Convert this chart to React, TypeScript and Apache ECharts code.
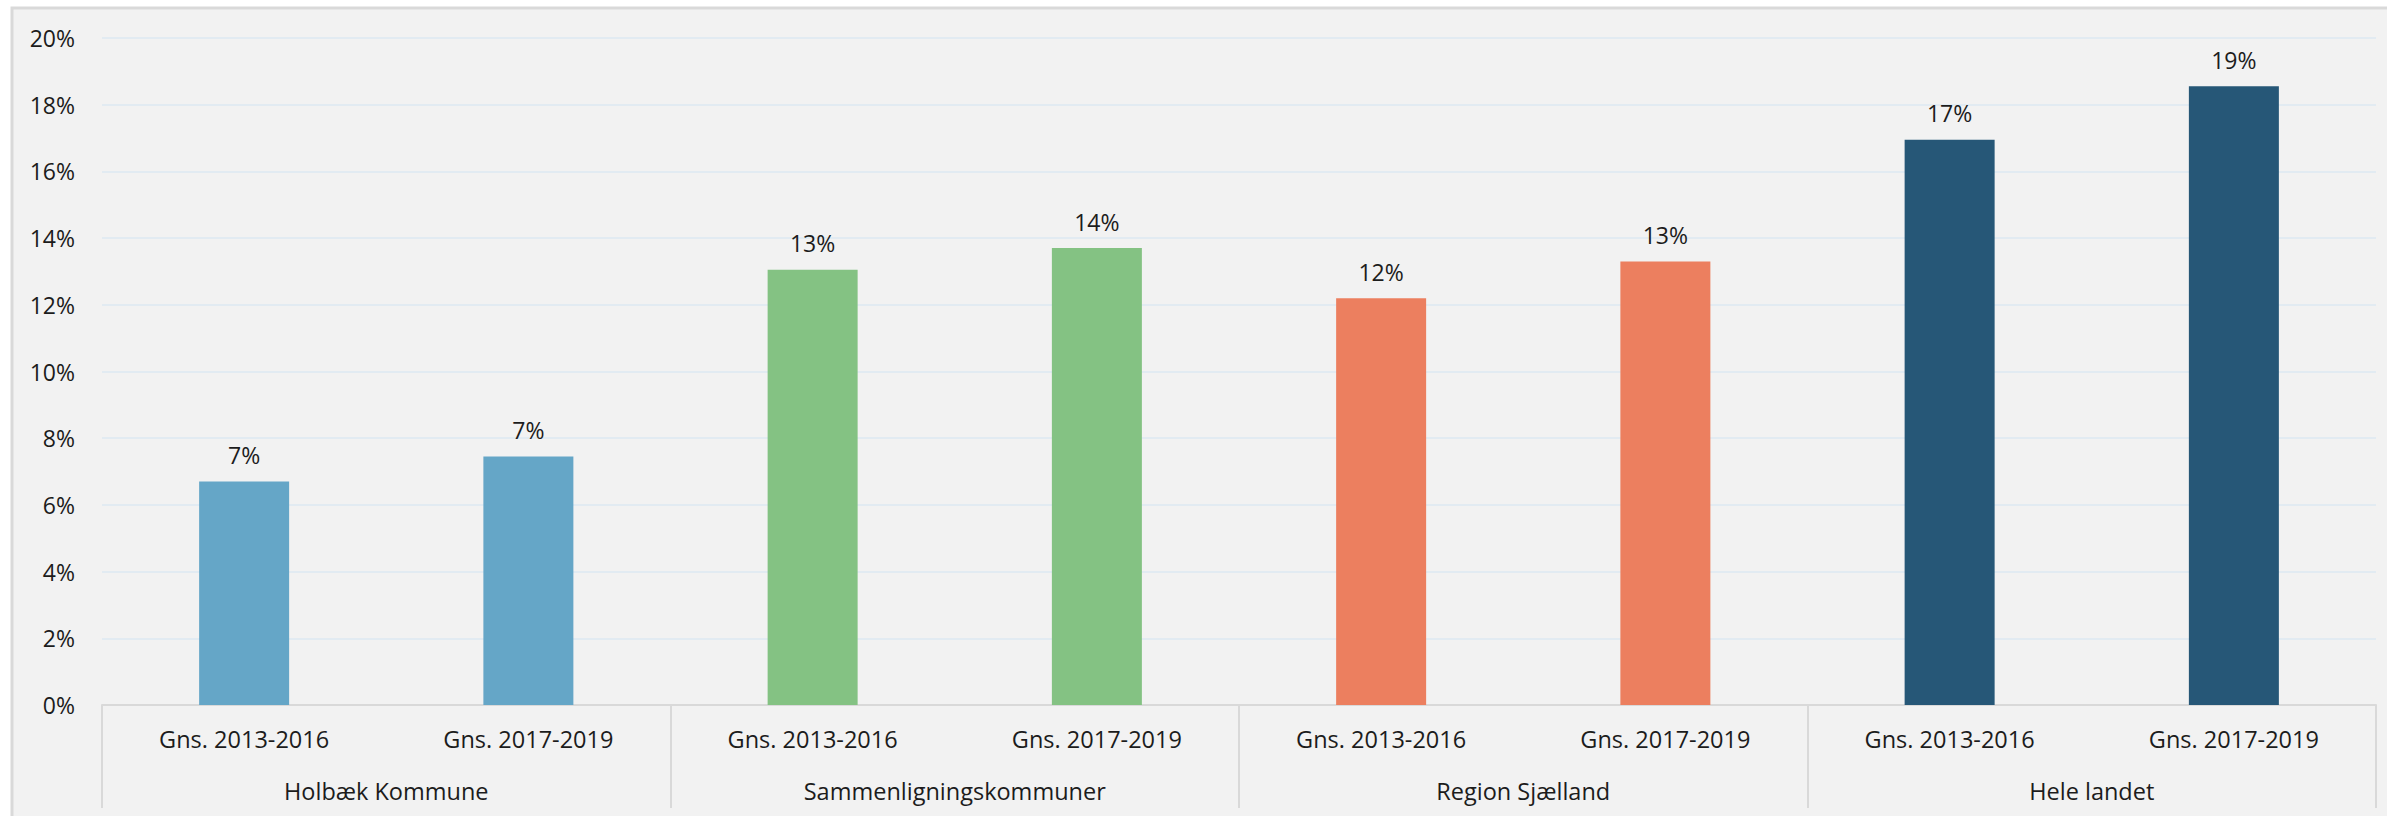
import React, { useEffect, useRef } from "react";
import * as echarts from "echarts";

const periods = [
  "Gns. 2013-2016",
  "Gns. 2017-2019",
  "Gns. 2013-2016",
  "Gns. 2017-2019",
  "Gns. 2013-2016",
  "Gns. 2017-2019",
  "Gns. 2013-2016",
  "Gns. 2017-2019",
];
const groups = ["Holbæk Kommune", "Sammenligningskommuner", "Region Sjælland", "Hele landet"];
const values = [6.7, 7.45, 13.05, 13.7, 12.2, 13.3, 16.95, 18.55];
const groupColors = ["#65a6c7", "#84c283", "#ec7f5f", "#265777"];

const FONT = "'Open Sans', 'Noto Sans', sans-serif";
const TEXT = "#1c1c1c";

export default function App() {
  const ref = useRef<HTMLDivElement>(null);
  useEffect(() => {
    document.body.style.margin = "0";
    const chart = echarts.init(ref.current!, null, { renderer: "svg" });
    chart.setOption({
      animation: false,
      backgroundColor: "#ffffff",
      textStyle: { fontFamily: FONT },
      graphic: [
        {
          type: "rect",
          z: -10,
          silent: true,
          shape: { x: 12, y: 8, width: 2400, height: 900 },
          style: { fill: "#f2f2f2", stroke: "#d9d9d9", lineWidth: 3 },
        },
      ],
      grid: { left: 102, right: 11, top: 38, bottom: 111, containLabel: false },
      xAxis: [
        {
          type: "category",
          position: "bottom",
          data: periods,
          axisLine: { show: true, lineStyle: { color: "#d9d9d9", width: 2 } },
          axisTick: { show: false },
          axisLabel: {
            interval: 0,
            margin: 22,
            fontSize: 23.5,
            color: TEXT,
            fontFamily: FONT,
          },
        },
        {
          type: "category",
          position: "bottom",
          data: groups,
          axisLine: { show: false },
          axisTick: {
            show: true,
            interval: 0,
            length: 103,
            lineStyle: { color: "#d9d9d9", width: 2 },
          },
          axisLabel: {
            interval: 0,
            margin: 74,
            fontSize: 23.5,
            color: TEXT,
            fontFamily: FONT,
          },
          splitLine: { show: false },
        },
      ],
      yAxis: {
        type: "value",
        min: 0,
        max: 20,
        interval: 2,
        axisLine: { show: false },
        axisTick: { show: false },
        axisLabel: {
          formatter: "{value}%",
          margin: 27,
          fontSize: 23,
          color: TEXT,
          fontFamily: FONT,
        },
        splitLine: { lineStyle: { color: "#dce8f2", width: 1.5 } },
      },
      series: [
        {
          type: "bar",
          xAxisIndex: 0,
          barWidth: 90,
          data: values.map((v, i) => ({
            value: v,
            itemStyle: { color: groupColors[Math.floor(i / 2)] },
          })),
          label: {
            show: true,
            position: "top",
            distance: 15,
            fontSize: 23,
            color: TEXT,
            fontFamily: FONT,
            formatter: (p: any) => Math.round(p.value) + "%",
          },
        },
      ],
    });
    return () => chart.dispose();
  }, []);
  return (
    <div
      ref={ref}
      style={{ position: "absolute", left: 0, top: 0, width: 2387, height: 816 }}
    />
  );
}
